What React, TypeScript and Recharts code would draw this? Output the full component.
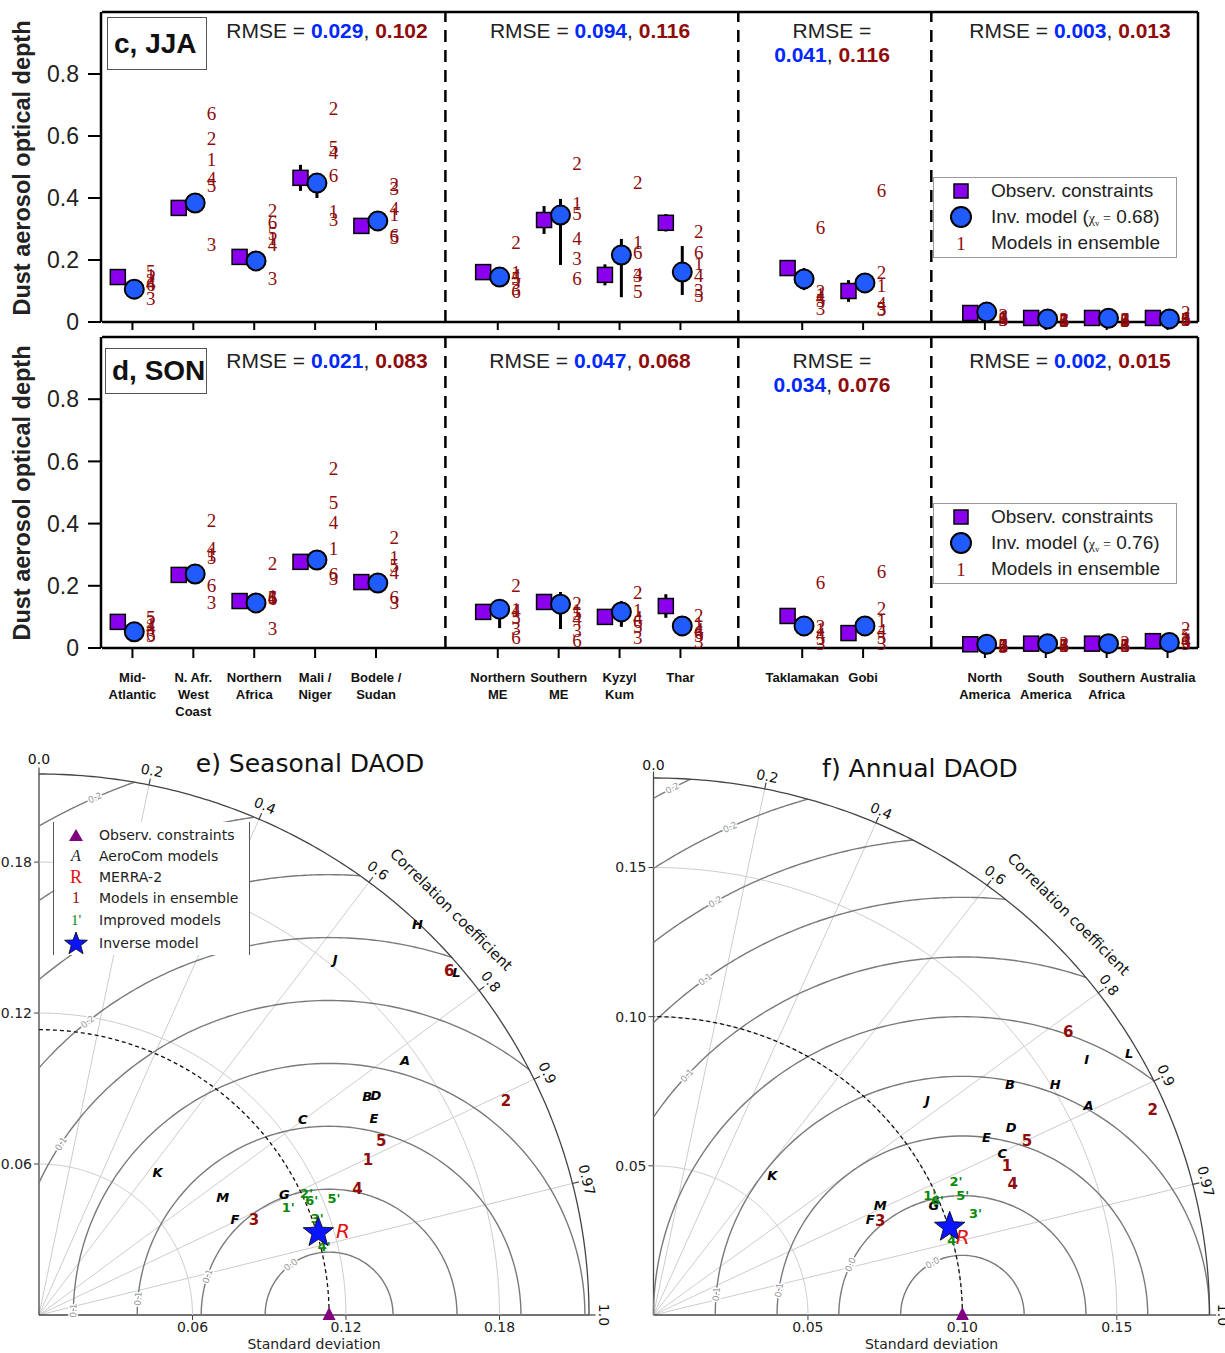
import React from "react";
import { ScatterChart, Scatter, XAxis, YAxis, ErrorBar, ReferenceLine, ReferenceDot } from "recharts";

const SANS = "'Liberation Sans', Arial, sans-serif";
const SERIF = "'Liberation Serif', 'Times New Roman', serif";
const DEJAVU = "'DejaVu Sans', sans-serif";
const OBS_PURPLE = "#8a00ee";
const INV_BLUE = "#1f5bff";
const ENS_RED = "#8e0c0c";
const RMSE_BLUE = "#0028ff";

// ---------- panels c / d : regional DAOD ----------
const regions = [
  "Mid-\nAtlantic", "N. Afr.\nWest\nCoast", "Northern\nAfrica", "Mali /\nNiger", "Bodele /\nSudan",
  "Northern\nME", "Southern\nME", "Kyzyl\nKum", "Thar",
  "Taklamakan", "Gobi",
  "North\nAmerica", "South\nAmerica", "Southern\nAfrica", "Australia",
];
const regionPos = [0, 1, 2, 3, 4, 6, 7, 8, 9, 11, 12, 14, 15, 16, 17];
const groupBreaks = [5.14, 9.95, 13.12];
const groupCenters = [327, 590, 832, 1070];
const yMajorTicks = [0, 0.2, 0.4, 0.6, 0.8];
const yMinorTicks = [0.05, 0.1, 0.15, 0.25, 0.3, 0.35, 0.45, 0.5, 0.55, 0.65, 0.7, 0.75, 0.85, 0.9, 0.95];

const jjaObs = [0.145, 0.368, 0.21, 0.465, 0.31, 0.161, 0.329, 0.152, 0.32, 0.174, 0.1, 0.029, 0.013, 0.013, 0.013];
const jjaObsErr = [0.01, 0.008, 0.008, 0.042, 0.008, 0.008, 0.045, 0.034, 0.028, 0.016, 0.035, 0.008, 0.006, 0.006, 0.006];
const jjaInv = [0.106, 0.384, 0.197, 0.448, 0.326, 0.145, 0.345, 0.216, 0.161, 0.139, 0.126, 0.032, 0.01, 0.012, 0.01];
const jjaInvLo = [0.01, 0.012, 0.01, 0.048, 0.012, 0.012, 0.161, 0.136, 0.074, 0.036, 0.01, 0.015, 0.008, 0.008, 0.008];
const jjaInvHi = [0.01, 0.012, 0.01, 0.03, 0.012, 0.012, 0.052, 0.052, 0.084, 0.035, 0.01, 0.015, 0.008, 0.008, 0.008];
const jjaModels = [
  [0.15, 0.526, 0.27, 0.358, 0.348, 0.16, 0.384, 0.258, 0.19, 0.09, 0.119, 0.015, 0.006, 0.007, 0.012],
  [0.135, 0.594, 0.36, 0.69, 0.445, 0.258, 0.513, 0.452, 0.294, 0.1, 0.161, 0.02, 0.008, 0.01, 0.032],
  [0.077, 0.25, 0.142, 0.332, 0.432, 0.11, 0.206, 0.15, 0.103, 0.045, 0.042, 0.01, 0.004, 0.005, 0.008],
  [0.125, 0.465, 0.25, 0.548, 0.368, 0.15, 0.271, 0.155, 0.152, 0.08, 0.061, 0.012, 0.005, 0.006, 0.01],
  [0.165, 0.44, 0.287, 0.565, 0.274, 0.14, 0.352, 0.1, 0.087, 0.07, 0.045, 0.01, 0.005, 0.005, 0.009],
  [0.12, 0.674, 0.32, 0.474, 0.28, 0.1, 0.142, 0.225, 0.225, 0.306, 0.426, 0.015, 0.006, 0.007, 0.011],
];
const jjaRmseInv = ["0.029", "0.094", "0.041", "0.003"];
const jjaRmseEns = ["0.102", "0.116", "0.116", "0.013"];

const sonObs = [0.084, 0.235, 0.151, 0.277, 0.212, 0.116, 0.148, 0.1, 0.135, 0.103, 0.048, 0.012, 0.014, 0.014, 0.022];
const sonObsErr = [0.01, 0.012, 0.008, 0.012, 0.01, 0.008, 0.01, 0.01, 0.038, 0.01, 0.006, 0.006, 0.006, 0.006, 0.006];
const sonInv = [0.052, 0.238, 0.145, 0.283, 0.209, 0.125, 0.141, 0.116, 0.071, 0.071, 0.071, 0.012, 0.014, 0.014, 0.018];
const sonInvLo = [0.012, 0.01, 0.008, 0.01, 0.008, 0.061, 0.08, 0.048, 0.005, 0.012, 0.012, 0.009, 0.009, 0.009, 0.009];
const sonInvHi = [0.01, 0.01, 0.008, 0.012, 0.008, 0.023, 0.039, 0.035, 0.005, 0.012, 0.008, 0.009, 0.009, 0.009, 0.009];
const sonModels = [
  [0.075, 0.3, 0.166, 0.322, 0.293, 0.125, 0.12, 0.122, 0.08, 0.06, 0.09, 0.008, 0.01, 0.01, 0.03],
  [0.085, 0.412, 0.273, 0.579, 0.357, 0.2, 0.145, 0.18, 0.106, 0.07, 0.129, 0.01, 0.016, 0.018, 0.064],
  [0.04, 0.148, 0.064, 0.225, 0.148, 0.064, 0.058, 0.035, 0.02, 0.015, 0.016, 0.006, 0.008, 0.008, 0.015],
  [0.065, 0.322, 0.164, 0.405, 0.244, 0.12, 0.095, 0.1, 0.06, 0.045, 0.058, 0.007, 0.009, 0.009, 0.025],
  [0.1, 0.29, 0.162, 0.469, 0.267, 0.1, 0.11, 0.07, 0.04, 0.03, 0.035, 0.007, 0.009, 0.009, 0.04],
  [0.045, 0.203, 0.16, 0.238, 0.164, 0.035, 0.026, 0.085, 0.05, 0.212, 0.248, 0.008, 0.01, 0.01, 0.02],
];
const sonRmseInv = ["0.021", "0.047", "0.034", "0.002"];
const sonRmseEns = ["0.083", "0.068", "0.076", "0.015"];

// ---------- panels e / f : Taylor diagrams (std, correlation) ----------
const seasonalAeroNames = ["A", "B", "C", "D", "E", "F", "G", "H", "J", "K", "L", "M"];
const seasonalAeroStd = [0.1753, 0.155, 0.1291, 0.158, 0.1524, 0.0855, 0.1072, 0.2145, 0.1828, 0.0732, 0.2125, 0.0856];
const seasonalAeroCorr = [0.8163, 0.8277, 0.7986, 0.8336, 0.859, 0.8956, 0.8948, 0.6896, 0.6335, 0.6325, 0.7679, 0.8386];
const seasonalEnsStd = [0.1427, 0.2014, 0.0922, 0.1342, 0.1506, 0.2108];
const seasonalEnsCorr = [0.9012, 0.9062, 0.911, 0.9277, 0.888, 0.7606];
const seasonalImpStd = [0.1064, 0.1152, 0.1154, 0.1148, 0.1243, 0.1159];
const seasonalImpCorr = [0.916, 0.908, 0.9428, 0.9716, 0.9275, 0.92];
const seasonalInverse = [0.114, 0.9579];
const seasonalMerra = [0.1234, 0.9627];
const seasonalObsStd = 0.1134;

const annualAeroNames = ["A", "B", "C", "D", "E", "F", "G", "H", "I", "J", "K", "L", "M"];
const annualAeroStd = [0.1574, 0.1389, 0.1252, 0.1318, 0.1232, 0.0771, 0.0979, 0.1512, 0.1644, 0.1143, 0.0605, 0.1773, 0.0821];
const annualAeroCorr = [0.895, 0.831, 0.902, 0.8785, 0.875, 0.91, 0.927, 0.86, 0.853, 0.776, 0.635, 0.8687, 0.894];
const annualEnsStd = [0.1249, 0.1757, 0.08, 0.1244, 0.1343, 0.1644];
const annualEnsCorr = [0.9165, 0.92, 0.9178, 0.935, 0.9, 0.8168];
const annualImpStd = [0.0981, 0.1077, 0.1097, 0.1004, 0.1079, 0.0996];
const annualImpCorr = [0.912, 0.909, 0.9505, 0.968, 0.928, 0.923];
const annualInverse = [0.1003, 0.956];
const annualMerra = [0.1035, 0.967];
const annualObsStd = 0.1;

const corrTicks = [0.2, 0.4, 0.6, 0.8, 0.9, 0.97];
const corrLabels = [0, 0.2, 0.4, 0.6, 0.8, 0.9, 0.97, 1];

const noShape = () => <g />;

const squareShape = (p: any) => (
  <rect x={p.cx - 7.5} y={p.cy - 7.5} width={15} height={15} fill={OBS_PURPLE} stroke="#000" strokeWidth={1.5} />
);
const circleShape = (p: any) => (
  <circle cx={p.cx} cy={p.cy} r={9.5} fill={INV_BLUE} stroke="#000" strokeWidth={2} />
);
const modelShape = (p: any) => (
  <text x={p.cx} y={p.cy} dy="0.35em" textAnchor="middle" fontFamily={SERIF} fontSize={19} fill={ENS_RED}>
    {p.payload.n}
  </text>
);

const RegionTick = (props: any) => {
  const { x, y, payload } = props;
  const i = regionPos.indexOf(payload.value);
  if (i < 0) return <g />;
  const lines = regions[i].split("\n");
  return (
    <text x={x} y={y} textAnchor="middle" fontFamily={SANS} fontWeight="bold" fontSize={13} fill="#111">
      {lines.map((l, k) => (
        <tspan key={k} x={x} dy={k === 0 ? 22 : 17}>
          {l}
        </tspan>
      ))}
    </text>
  );
};

function TopPanel(props: any) {
  const { top, height, marginBottom, xAxisHeight, showLabels, obs, obsErr, inv, invLo, invHi, models } = props;
  const obsData = regionPos.map((p, i) => ({ x: p - 0.24, y: obs[i], err: obsErr[i] }));
  const invData = regionPos.map((p, i) => ({ x: p + 0.03, y: inv[i], err: [invLo[i], invHi[i]] }));
  const modelData = models.flatMap((vals: number[], m: number) =>
    regionPos.map((p, i) => ({ x: p + 0.3, y: vals[i], n: m + 1 }))
  );
  const border = { stroke: "#000", strokeWidth: 2.5 };
  return (
    <div style={{ position: "absolute", left: 0, top, width: 1225, height }}>
      <ScatterChart width={1225} height={height} margin={{ top: 11, right: 27, bottom: marginBottom, left: 100 }}>
        <XAxis
          xAxisId="b"
          type="number"
          dataKey="x"
          domain={[-0.5, 17.5]}
          ticks={regionPos}
          interval={0}
          height={xAxisHeight}
          tickSize={showLabels ? 10 : 8}
          tickMargin={2}
          axisLine={border}
          tickLine={{ stroke: "#000", strokeWidth: 2 }}
          tick={showLabels ? <RegionTick /> : noShape}
        />
        <XAxis xAxisId="t" orientation="top" type="number" domain={[-0.5, 17.5]} height={1} tick={noShape} tickLine={false} axisLine={border} />
        <YAxis
          yAxisId="y"
          type="number"
          dataKey="y"
          domain={[0, 1]}
          ticks={yMajorTicks}
          interval={0}
          width={1}
          tickSize={13}
          tickMargin={9}
          axisLine={border}
          tickLine={{ stroke: "#000", strokeWidth: 2 }}
          tickFormatter={(v: number) => (v === 0 ? "0" : v.toFixed(1))}
          tick={{ fontSize: 23, fill: "#222", fontFamily: SANS }}
        />
        <YAxis yAxisId="lm" type="number" domain={[0, 1]} ticks={yMinorTicks} interval={0} width={1} tickSize={6} axisLine={false} tickLine={{ stroke: "#000", strokeWidth: 1.5 }} tick={noShape} />
        <YAxis yAxisId="rM" orientation="right" mirror type="number" domain={[0, 1]} ticks={yMajorTicks} interval={0} width={1} tickSize={13} axisLine={border} tickLine={{ stroke: "#000", strokeWidth: 2 }} tick={noShape} />
        <YAxis yAxisId="rm" orientation="right" mirror type="number" domain={[0, 1]} ticks={yMinorTicks} interval={0} width={1} tickSize={6} axisLine={false} tickLine={{ stroke: "#000", strokeWidth: 1.5 }} tick={noShape} />
        {groupBreaks.map((b) => (
          <ReferenceLine key={b} xAxisId="b" yAxisId="y" x={b} stroke="#000" strokeWidth={2.5} strokeDasharray="12 8" />
        ))}
        <Scatter xAxisId="b" yAxisId="y" data={modelData} shape={modelShape} isAnimationActive={false} />
        <Scatter xAxisId="b" yAxisId="y" data={obsData} shape={squareShape} isAnimationActive={false}>
          <ErrorBar dataKey="err" direction="y" width={0} stroke="#000" strokeWidth={3} />
        </Scatter>
        <Scatter xAxisId="b" yAxisId="y" data={invData} shape={circleShape} isAnimationActive={false}>
          <ErrorBar dataKey="err" direction="y" width={0} stroke="#000" strokeWidth={3} />
        </Scatter>
      </ScatterChart>
    </div>
  );
}

const abs = (left: number, top: number, extra: any = {}) => ({ position: "absolute" as const, left, top, ...extra });

function RmseLabels({ y, inv, ens }: any) {
  const num = (v: string, c: string) => <span style={{ color: c, fontWeight: "bold" }}>{v}</span>;
  const base = { fontFamily: SANS, fontSize: 21, color: "#222", whiteSpace: "nowrap" as const, transform: "translate(-50%, -50%)", lineHeight: "24px", textAlign: "center" as const };
  return (
    <>
      {groupCenters.map((cx, g) =>
        g === 2 ? (
          <div key={g} style={abs(cx, y + 12, base)}>
            RMSE =<br />
            {num(inv[g], RMSE_BLUE)}, {num(ens[g], ENS_RED)}
          </div>
        ) : (
          <div key={g} style={abs(cx, y, base)}>
            RMSE = {num(inv[g], RMSE_BLUE)}, {num(ens[g], ENS_RED)}
          </div>
        )
      )}
    </>
  );
}

function TopLegend({ top, chi }: any) {
  const row = (y: number, marker: React.ReactNode, text: React.ReactNode) => (
    <>
      <div style={abs(27, y, { transform: "translate(-50%, -50%)", lineHeight: 0 })}>{marker}</div>
      <div style={abs(57, y, { transform: "translateY(-50%)", whiteSpace: "nowrap" })}>{text}</div>
    </>
  );
  return (
    <div style={abs(933, top, { width: 244, height: 81, border: "1px solid #999", background: "#fff", boxSizing: "border-box", fontFamily: SANS, fontSize: 19, color: "#222" })}>
      {row(13, <svg width={16} height={16}><rect x={1} y={1} width={14} height={14} fill={OBS_PURPLE} stroke="#000" strokeWidth={1.5} /></svg>, "Observ. constraints")}
      {row(39, <svg width={24} height={24}><circle cx={12} cy={12} r={10} fill={INV_BLUE} stroke="#000" strokeWidth={2} /></svg>,
        <span>Inv. model (<span style={{ fontFamily: SERIF, fontSize: 14 }}>χ<sub style={{ fontSize: 9 }}>v</sub> =</span> {chi})</span>)}
      {row(65, <span style={{ fontFamily: SERIF, color: ENS_RED, fontSize: 19, lineHeight: "19px" }}>1</span>, "Models in ensemble")}
    </div>
  );
}

function PanelTag({ left, top, width, height, text }: any) {
  return (
    <div style={abs(left, top, { width, height, border: "1px solid #555", boxSizing: "border-box", background: "#fff", fontFamily: SANS, fontWeight: "bold", fontSize: 28, lineHeight: `${height - 2}px`, paddingLeft: 6, color: "#111" })}>
      {text}
    </div>
  );
}

function YTitle({ cy }: any) {
  return (
    <div style={abs(22, cy, { transform: "translate(-50%, -50%) rotate(-90deg)", whiteSpace: "nowrap", fontFamily: SANS, fontWeight: "bold", fontSize: 23.5, color: "#222" })}>
      Dust aerosol optical depth
    </div>
  );
}

// ---------- Taylor helpers ----------
function arcPoints(cx: number, r: number, t0: number, t1: number, R: number, n = 120) {
  const pts = [];
  for (let i = 0; i <= n; i++) {
    const t = t0 + ((t1 - t0) * i) / n;
    const x = Math.min(R, Math.max(0, cx + r * Math.cos(t)));
    const y = Math.min(R, Math.max(0, r * Math.sin(t)));
    pts.push({ x, y });
  }
  return pts;
}

const toXY = (std: number, corr: number) => ({ x: std * corr, y: std * Math.sqrt(Math.max(0, 1 - corr * corr)) });

const textShape = (color: string, size: number, weight: string, style: string) => (p: any) => (
  <text x={p.cx} y={p.cy} dy="0.36em" textAnchor="middle" fill={color} fontSize={size} fontWeight={weight} fontStyle={style} fontFamily={DEJAVU}>
    {p.payload.label}
  </text>
);

const starPoints = (cx: number, cy: number, r: number) => {
  const pts = [];
  for (let k = 0; k < 10; k++) {
    const a = -Math.PI / 2 + (k * Math.PI) / 5;
    const rr = k % 2 === 0 ? r : r * 0.42;
    pts.push(`${cx + rr * Math.cos(a)},${cy + rr * Math.sin(a)}`);
  }
  return pts.join(" ");
};
const starShape = (p: any) => <polygon points={starPoints(p.cx, p.cy, 16)} fill="#0a14ff" stroke="#000" strokeWidth={0.8} />;
const triangleShape = (p: any) => (
  <polygon points={`${p.cx},${p.cy - 8} ${p.cx - 6.5},${p.cy + 5} ${p.cx + 6.5},${p.cy + 5}`} fill="#800080" />
);

function Taylor(p: any) {
  const R = p.maxStd;
  const s0 = p.refStd;
  const stdArcs = p.stdTicks.map((r: number) => arcPoints(0, r, 0, Math.PI / 2, R));
  const rmsArcs = p.rmsRadii.map((rho: number) => {
    const c = (R * R - s0 * s0 - rho * rho) / (2 * s0 * rho);
    const t0 = c >= 1 ? 0 : Math.acos(Math.max(-1, c));
    const t1 = Math.acos(Math.max(-1, -s0 / rho));
    return t1 > t0 ? arcPoints(s0, rho, t0, t1, R) : [];
  });
  const aero = p.aeroNames.map((n: string, i: number) => ({ ...toXY(p.aeroStd[i], p.aeroCorr[i]), label: n }));
  const ens = p.ensStd.map((s: number, i: number) => ({ ...toXY(s, p.ensCorr[i]), label: String(i + 1) }));
  const imp = p.impStd.map((s: number, i: number) => ({ ...toXY(s, p.impCorr[i]), label: `${i + 1}'` }));
  const inv = [toXY(p.inverse[0], p.inverse[1])];
  const merra = [{ ...toXY(p.merra[0], p.merra[1]), label: "R" }];
  const obs = [{ x: s0, y: 0 }];
  const axisStroke = { stroke: "#444", strokeWidth: 1.3 };
  const tickFont = { fontSize: 14, fill: "#222", fontFamily: DEJAVU };
  return (
    <div style={abs(p.left, p.top)}>
      <ScatterChart width={p.width} height={p.height} margin={{ top: p.marginTop, right: p.marginRight, bottom: 0, left: 0 }}>
        <XAxis
          type="number"
          dataKey="x"
          domain={[0, R]}
          ticks={p.stdTicks}
          interval={0}
          height={p.xAxisHeight}
          tickSize={5}
          axisLine={axisStroke}
          tickLine={{ stroke: "#444" }}
          tickFormatter={(v: number) => v.toFixed(2)}
          tick={tickFont}
          label={{ value: "Standard deviation", position: "insideBottom", offset: 4, fontSize: 14, fill: "#222", fontFamily: DEJAVU }}
        />
        <YAxis
          type="number"
          dataKey="y"
          domain={[0, R]}
          ticks={p.stdTicks}
          interval={0}
          width={p.yAxisWidth}
          tickSize={5}
          tickMargin={2}
          axisLine={axisStroke}
          tickLine={{ stroke: "#444" }}
          tickFormatter={(v: number) => v.toFixed(2)}
          tick={tickFont}
        />
        {stdArcs.map((pts: any[], i: number) => (
          <Scatter key={`std${i}`} data={pts} line={{ stroke: "#cdcdcd", strokeWidth: 1 }} shape={noShape} isAnimationActive={false} />
        ))}
        {corrTicks.map((c) => (
          <ReferenceLine key={`cl${c}`} segment={[{ x: 0, y: 0 }, { x: R * c, y: R * Math.sqrt(1 - c * c) }]} stroke="#cdcdcd" strokeWidth={1} ifOverflow="visible" />
        ))}
        {rmsArcs.map((pts: any[], i: number) => (
          <Scatter key={`rms${i}`} data={pts} line={{ stroke: "#7a7a7a", strokeWidth: 1.4 }} shape={noShape} isAnimationActive={false} />
        ))}
        <Scatter data={arcPoints(0, R, 0, Math.PI / 2, R, 180)} line={{ stroke: "#444", strokeWidth: 1.3 }} shape={noShape} isAnimationActive={false} />
        <Scatter data={arcPoints(0, s0, 0, Math.PI / 2, R, 180)} line={{ stroke: "#111", strokeWidth: 1.3, strokeDasharray: "4 3" }} shape={noShape} isAnimationActive={false} />
        {corrLabels.map((c) => {
          const phi = Math.acos(c);
          return (
            <ReferenceLine
              key={`ct${c}`}
              segment={[
                { x: R * Math.cos(phi), y: R * Math.sin(phi) },
                { x: 1.012 * R * Math.cos(phi), y: 1.012 * R * Math.sin(phi) },
              ]}
              stroke="#444"
              strokeWidth={1.2}
              ifOverflow="visible"
            />
          );
        })}
        {p.rmsLabels.map(([rho, deg, txt]: any, i: number) => {
          const t = (deg * Math.PI) / 180;
          return (
            <ReferenceDot
              key={`rl${i}`}
              x={s0 + rho * Math.cos(t)}
              y={rho * Math.sin(t)}
              ifOverflow="visible"
              shape={(q: any) => (
                <text x={q.cx} y={q.cy} dy="0.35em" textAnchor="middle" fontSize={9} fill="#999" fontFamily={DEJAVU}
                  stroke="#fff" strokeWidth={3} paintOrder="stroke" transform={`rotate(${90 - deg} ${q.cx} ${q.cy})`}>
                  {txt}
                </text>
              )}
            />
          );
        })}
        {corrLabels.map((c) => {
          const phi = Math.acos(c);
          const rr = p.corrLabelR * R;
          const rot = 90 - (phi * 180) / Math.PI;
          return (
            <ReferenceDot
              key={`cv${c}`}
              x={rr * Math.cos(phi)}
              y={rr * Math.sin(phi)}
              ifOverflow="visible"
              shape={(q: any) => (
                <text x={q.cx} y={q.cy} dy="0.35em" textAnchor="middle" fontSize={14} fill="#111" fontFamily={DEJAVU} transform={`rotate(${rot} ${q.cx} ${q.cy})`}>
                  {c === 0 ? "0.0" : c === 1 ? "1.0" : String(c)}
                </text>
              )}
            />
          );
        })}
        <ReferenceDot
          x={p.titleR * R * Math.cos(Math.PI / 4)}
          y={p.titleR * R * Math.sin(Math.PI / 4)}
          ifOverflow="visible"
          shape={(q: any) => (
            <text x={q.cx} y={q.cy} dy="0.35em" textAnchor="middle" fontSize={15} fill="#111" fontFamily={DEJAVU} transform={`rotate(45 ${q.cx} ${q.cy})`}>
              Correlation coefficient
            </text>
          )}
        />
        <Scatter data={aero} shape={textShape("#000", 13, "bold", "italic")} isAnimationActive={false} />
        <Scatter data={ens} shape={textShape(ENS_RED, 15, "bold", "normal")} isAnimationActive={false} />
        <Scatter data={imp} shape={textShape("#0a8a0a", 13, "bold", "normal")} isAnimationActive={false} />
        <Scatter data={inv} shape={starShape} isAnimationActive={false} />
        <Scatter data={merra} shape={textShape("#e01010", 20, "normal", "italic")} isAnimationActive={false} />
        <Scatter data={obs} shape={triangleShape} isAnimationActive={false} />
      </ScatterChart>
    </div>
  );
}

function TaylorLegend() {
  const rows: [React.ReactNode, string][] = [
    [<svg width={16} height={14}><polygon points="8,1 1,13 15,13" fill="#800080" /></svg>, "Observ. constraints"],
    [<span style={{ fontFamily: SERIF, fontStyle: "italic", fontSize: 16 }}>A</span>, "AeroCom models"],
    [<span style={{ fontFamily: SERIF, fontSize: 18, color: "#e01010" }}>R</span>, "MERRA-2"],
    [<span style={{ fontFamily: SERIF, fontSize: 16, color: ENS_RED }}>1</span>, "Models in ensemble"],
    [<span style={{ fontFamily: SERIF, fontSize: 15, color: "#0a8a0a" }}>1'</span>, "Improved models"],
    [<svg width={26} height={26}><polygon points={starPoints(13, 14, 12)} fill="#0a14ff" stroke="#000" strokeWidth={0.8} /></svg>, "Inverse model"],
  ];
  const ys = [13, 34, 55, 76, 98, 121];
  return (
    <div style={abs(53, 822, { width: 197, height: 133, borderLeft: "1px solid #555", borderRight: "1px solid #555", background: "#fff", boxSizing: "border-box", fontFamily: DEJAVU, fontSize: 14, color: "#222" })}>
      {rows.map(([m, t], i) => (
        <React.Fragment key={i}>
          <div style={abs(22, ys[i], { transform: "translate(-50%, -50%)", lineHeight: 0 })}>{m}</div>
          <div style={abs(45, ys[i], { transform: "translateY(-50%)", whiteSpace: "nowrap" })}>{t}</div>
        </React.Fragment>
      ))}
    </div>
  );
}

export default function App() {
  return (
    <div style={{ position: "absolute", left: 0, top: 0, width: 1225, height: 1353, background: "#fff", overflow: "hidden" }}>
      <TopPanel top={0} height={335} marginBottom={3} xAxisHeight={10} showLabels={false}
        obs={jjaObs} obsErr={jjaObsErr} inv={jjaInv} invLo={jjaInvLo} invHi={jjaInvHi} models={jjaModels} />
      <TopPanel top={325} height={400} marginBottom={29} xAxisHeight={48} showLabels={true}
        obs={sonObs} obsErr={sonObsErr} inv={sonInv} invLo={sonInvLo} invHi={sonInvHi} models={sonModels} />
      <YTitle cy={168} />
      <YTitle cy={493} />
      <PanelTag left={107} top={17} width={100} height={53} text="c, JJA" />
      <PanelTag left={105} top={348} width={102} height={46} text="d, SON" />
      <RmseLabels y={31} inv={jjaRmseInv} ens={jjaRmseEns} />
      <RmseLabels y={361} inv={sonRmseInv} ens={sonRmseEns} />
      <TopLegend top={177} chi="0.68" />
      <TopLegend top={503} chi="0.76" />

      <Taylor left={0} top={740} width={620} height={613} yAxisWidth={39} marginRight={31} marginTop={34} xAxisHeight={38}
        maxStd={0.215} refStd={seasonalObsStd} stdTicks={[0.06, 0.12, 0.18]} corrLabelR={1.027} titleR={1.06}
        rmsRadii={[0.025, 0.05, 0.075, 0.1, 0.125, 0.15, 0.175, 0.2, 0.225]}
        rmsLabels={[[0.025, 127, "0.0"], [0.05, 162, "0.1"], [0.075, 175, "0.1"], [0.1, 179, "0.1"], [0.125, 147, "0.1"], [0.15, 129, "0.2"], [0.225, 114, "0.2"]]}
        aeroNames={seasonalAeroNames} aeroStd={seasonalAeroStd} aeroCorr={seasonalAeroCorr}
        ensStd={seasonalEnsStd} ensCorr={seasonalEnsCorr} impStd={seasonalImpStd} impCorr={seasonalImpCorr}
        inverse={seasonalInverse} merra={seasonalMerra} />
      <Taylor left={612} top={740} width={613} height={613} yAxisWidth={41.5} marginRight={15.5} marginTop={38} xAxisHeight={38}
        maxStd={0.18} refStd={annualObsStd} stdTicks={[0.05, 0.1, 0.15]} corrLabelR={1.024} titleR={1.056}
        rmsRadii={[0.02, 0.04, 0.06, 0.08, 0.1, 0.12, 0.14, 0.16, 0.18, 0.2]}
        rmsLabels={[[0.02, 119, "0.0"], [0.04, 155, "0.0"], [0.06, 172, "0.1"], [0.08, 175, "0.1"], [0.12, 138, "0.1"], [0.14, 126.5, "0.1"], [0.16, 120, "0.2"], [0.18, 114.7, "0.2"], [0.2, 118, "0.2"]]}
        aeroNames={annualAeroNames} aeroStd={annualAeroStd} aeroCorr={annualAeroCorr}
        ensStd={annualEnsStd} ensCorr={annualEnsCorr} impStd={annualImpStd} impCorr={annualImpCorr}
        inverse={annualInverse} merra={annualMerra} />
      <div style={abs(310, 763, { transform: "translate(-50%, -50%)", whiteSpace: "nowrap", fontFamily: DEJAVU, fontSize: 25, color: "#111" })}>e) Seasonal DAOD</div>
      <div style={abs(920, 768, { transform: "translate(-50%, -50%)", whiteSpace: "nowrap", fontFamily: DEJAVU, fontSize: 25, color: "#111" })}>f) Annual DAOD</div>
      <TaylorLegend />
    </div>
  );
}
